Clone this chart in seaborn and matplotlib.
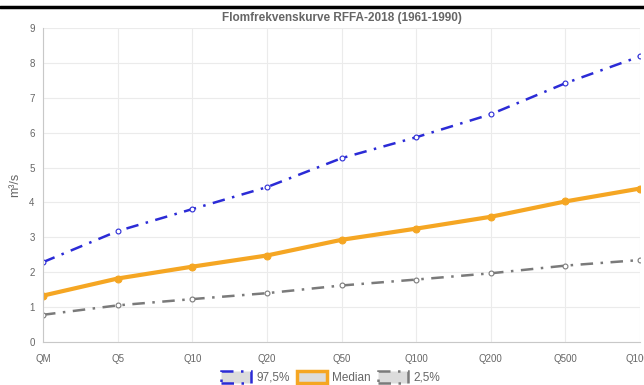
import matplotlib
matplotlib.use("Agg")
import matplotlib.pyplot as plt
import seaborn as sns
import pandas as pd
from matplotlib.patches import Patch
from matplotlib.lines import Line2D

# Flood frequency curve, RFFA-2018 (1961-1990)
categories = ["QM", "Q5", "Q10", "Q20", "Q50", "Q100", "Q200", "Q500", "Q1000"]
upper_975 = [2.29, 3.18, 3.81, 4.44, 5.27, 5.87, 6.53, 7.42, 8.19]
median = [1.33, 1.82, 2.16, 2.48, 2.93, 3.25, 3.59, 4.03, 4.40]
lower_025 = [0.78, 1.05, 1.23, 1.40, 1.62, 1.79, 1.97, 2.19, 2.35]
y_ticks = list(range(0, 10))

df = pd.DataFrame({"x": categories, "upper": upper_975, "median": median, "lower": lower_025})

sns.set_style("white")
plt.rcParams["font.family"] = ["Liberation Sans", "DejaVu Sans"]

fig = plt.figure(figsize=(6.44, 3.85), dpi=100)
ax = fig.add_axes([0.0668, 0.1117, 0.927, 0.8153])

blue = "#2b2bd6"
orange = "#f5a623"
grey = "#7a7a7a"
dashdot = (0, (5, 3, 1, 3))

sns.lineplot(data=df, x="x", y="upper", ax=ax, sort=False, color=blue, lw=1.8,
             linestyle=dashdot, marker="o", markersize=3.5, markerfacecolor="white",
             markeredgecolor=blue, markeredgewidth=0.8)
sns.lineplot(data=df, x="x", y="median", ax=ax, sort=False, color=orange, lw=3,
             marker="o", markersize=5, markeredgecolor=orange)
sns.lineplot(data=df, x="x", y="lower", ax=ax, sort=False, color=grey, lw=1.8,
             linestyle=dashdot, marker="o", markersize=3.5, markerfacecolor="white",
             markeredgecolor=grey, markeredgewidth=0.8)

ax.set_xlim(0, len(categories) - 1)
ax.set_ylim(0, 9)
ax.set_yticks(y_ticks)
ax.set_xticks(range(len(categories)))
ax.set_xticklabels(categories)
ax.grid(True, color="#ebebeb", lw=0.8)
ax.set_axisbelow(True)
for side in ["top", "right"]:
    ax.spines[side].set_visible(False)
for side in ["left", "bottom"]:
    ax.spines[side].set_color("#c8c8c8")
    ax.spines[side].set_linewidth(0.8)
ax.tick_params(axis="both", colors="#666666", labelsize=7, length=4, width=0.8,
               direction="out")
ax.tick_params(axis="x", pad=5)
ax.tick_params(axis="y", pad=2)
for t in ax.get_xticklabels() + ax.get_yticklabels():
    t.set_color("#666666")
ax.set_xlabel("")
ax.set_ylabel("m³/s", color="#666666", fontsize=9, labelpad=6)
ax.set_title("Flomfrekvenskurve RFFA-2018 (1961-1990)", color="#666666",
             fontsize=8.5, fontweight="bold", pad=5)

# black rule across the top
fig.add_artist(Line2D([0, 1], [0.982, 0.982], transform=fig.transFigure,
                      color="black", lw=2.5))

handles = [
    Patch(facecolor="#dcdcdc", edgecolor=blue, lw=1.8, linestyle=dashdot, label="97,5%"),
    Patch(facecolor="#dcdcdc", edgecolor=orange, lw=2.5, label="Median"),
    Patch(facecolor="#dcdcdc", edgecolor=grey, lw=1.8, linestyle=dashdot, label="2,5%"),
]
leg = fig.legend(handles=handles, loc="center", bbox_to_anchor=(0.513, 0.02),
                 ncol=3, frameon=False, fontsize=8.5, handlelength=2.6,
                 handleheight=1.3, handletextpad=0.4, columnspacing=0.6)
for t in leg.get_texts():
    t.set_color("#666666")

fig.savefig("out.png", dpi=100)
